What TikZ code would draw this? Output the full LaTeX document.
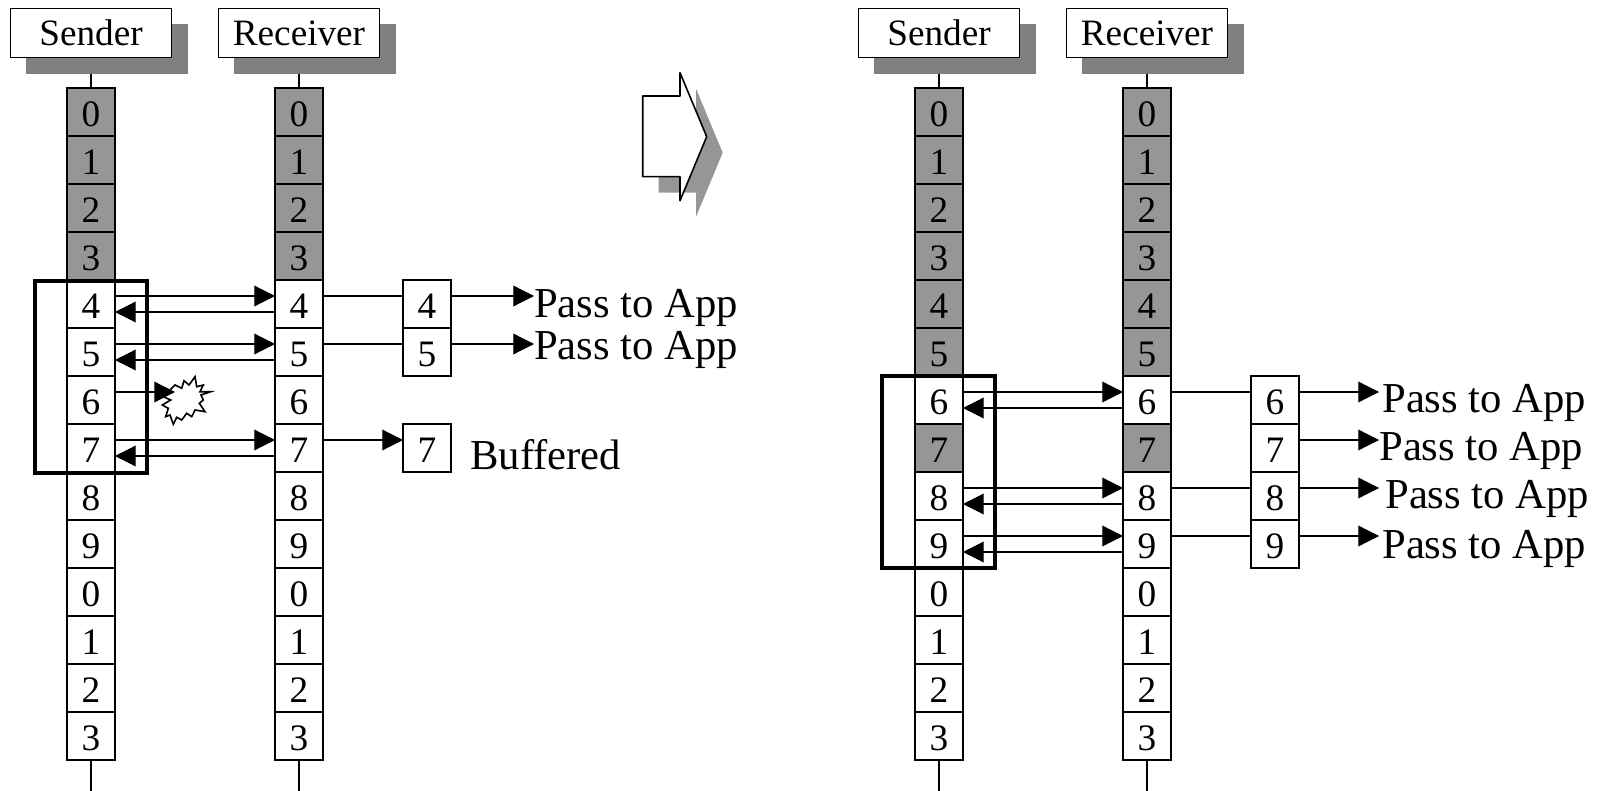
\documentclass[tikz,border=0pt]{standalone}
\usepackage{fontspec}
\setmainfont{Liberation Serif}
\usetikzlibrary{arrows.meta,calc}
\definecolor{cellgray}{HTML}{969696}
\definecolor{shadowgray}{HTML}{808080}
\tikzset{
  cell/.style={draw=black,line width=0.9pt,minimum width=36pt,minimum height=36pt,inner sep=0pt,outer sep=0pt,font=\fontsize{28}{30}\selectfont,text=black,text height=21.5pt,text depth=0pt},
  done/.style={cell,fill=cellgray},
  open/.style={cell,fill=white},
  head/.style={draw=black,fill=white,line width=1.2pt,minimum width=120.5pt,minimum height=36.5pt,inner sep=0pt,outer sep=0pt,font=\fontsize{27.9}{30}\selectfont},
  shad/.style={fill=shadowgray},
  link/.style={draw=black,line width=0.9pt},
  tip/.style={link,-{Triangle[length=15.5pt,width=15.5pt]}},
  winbox/.style={draw=black,line width=2.4pt},
  lab/.style={anchor=west,inner sep=0pt,font=\fontsize{32}{34}\selectfont},
}
\begin{document}
\begin{tikzpicture}[x=0.75pt,y=-0.75pt]
\useasboundingbox (0,0) rectangle (1602,791);
\foreach \off/\p/\grays in {0/L/{0,1,2,3},848/R/{0,1,2,3,4,5,7}}{
  \begin{scope}[shift={(\off,0)}]
    \fill[shad] (26,24) rectangle (188,74);
    \fill[shad] (234,24) rectangle (396,74);
    \node[head] (\p sh) at (91,33) {Sender};
    \node[head] (\p rh) at (299,33) {Receiver};
    \foreach \i/\t in {0/0,1/1,2/2,3/3,4/4,5/5,6/6,7/7,8/8,9/9,10/0,11/1,12/2,13/3}{
      \node[open] (\p s\i) at (91,112+48*\i) {\t};
      \node[open] (\p r\i) at (299,112+48*\i) {\t};
    }
    \foreach \i in \grays {
      \node[done] at (\p s\i) {\i};
      \node[done] at (\p r\i) {\i};
    }
    \coordinate (\p se) at (91,791);
    \coordinate (\p re) at (299,791);
    \draw[link] (\p s0.north) -- (91,74);
    \draw[link] (\p r0.north) -- (299,74);
    \draw[link] (\p s13.south) -- (\p se);
    \draw[link] (\p r13.south) -- (\p re);
  \end{scope}
}
% left: buffer cells
\node[open] (Lb4) at (427,304) {4};
\node[open] (Lb5) at (427,352) {5};
\node[open] (Lb7) at (427,448) {7};
% left: arrows
\foreach \i in {4,5,7}{
  \draw[tip] ($(Ls\i.north east)+(0,16)$) -- ($(Lr\i.north west)+(0,16)$);
  \draw[tip] ($(Lr\i.north west)+(0,32)$) -- ($(Ls\i.north east)+(0,32)$);
}
\draw[draw=black,fill=white,line width=1.2pt] (210.7,391.7) -- (201,395) -- (203.3,400) -- (199.3,403.3) -- (205,411.7) -- (195,410) -- (191.7,416.7) -- (186.7,413.3) -- (181.7,420) -- (176.7,417.3) -- (173.3,424.3) -- (170,415) -- (165.7,416.7) -- (168.3,408.3) -- (162.3,405) -- (170.7,400) -- (163.3,396.7) -- (175,385) -- (181.7,388.3) -- (184,380.7) -- (189,385) -- (195,376.7) -- (196.7,386.7) -- (203.3,385) -- (200,391.7) -- cycle;
\coordinate (burstin) at (175,392);
\draw[tip] ($(Ls6.north east)+(0,16)$) -- (burstin);
\draw[link] ($(Lr4.north east)+(0,16)$) -- ($(Lb4.north west)+(0,16)$);
\draw[link] ($(Lr5.north east)+(0,16)$) -- ($(Lb5.north west)+(0,16)$);
\draw[tip] ($(Lr7.north east)+(0,16)$) -- ($(Lb7.north west)+(0,16)$);
\node[lab] (Lp4) at (534,308) {Pass to App};
\node[lab] (Lp5) at (534,350) {Pass to App};
\node[lab] (Lbuf) at (470,455) {Buffered};
\coordinate (Lt4) at (534,296);
\coordinate (Lt5) at (534,344);
\draw[tip] ($(Lb4.north east)+(0,16)$) -- (Lt4);
\draw[tip] ($(Lb5.north east)+(0,16)$) -- (Lt5);
\draw[winbox] (35,281) rectangle (147,473);
% big arrow
\fill[cellgray] (658.7,112) -- (696,112) -- (696,88.7) -- (722.7,152.7) -- (696,216.7) -- (696,192.7) -- (658.7,192.7) -- cycle;
\draw[draw=black,fill=white,line width=1.2pt,line join=round] (642.7,96) -- (680,96) -- (680,72.7) -- (706.7,136.7) -- (680,200.7) -- (680,176.7) -- (642.7,176.7) -- cycle;
% right: buffer cells
\foreach \i/\yy in {6/400,7/448,8/496,9/544}{
  \node[open] (Rb\i) at (1275,\yy) {\i};
}
\foreach \i in {6,8,9}{
  \draw[tip] ($(Rs\i.north east)+(0,16)$) -- ($(Rr\i.north west)+(0,16)$);
  \draw[tip] ($(Rr\i.north west)+(0,32)$) -- ($(Rs\i.north east)+(0,32)$);
  \draw[link] ($(Rr\i.north east)+(0,16)$) -- ($(Rb\i.north west)+(0,16)$);
}
\node[lab] (Rp6) at (1382,403) {Pass to App};
\node[lab] (Rp7) at (1379,451) {Pass to App};
\node[lab] (Rp8) at (1385,499) {Pass to App};
\node[lab] (Rp9) at (1382,549) {Pass to App};
\foreach \i/\yy in {6/392,7/440,8/488,9/536}{
  \coordinate (Rt\i) at (1379,\yy);
  \draw[tip] ($(Rb\i.north east)+(0,16)$) -- (Rt\i);
}
\draw[winbox] (882,376) rectangle (995,568);
\end{tikzpicture}
\end{document}
